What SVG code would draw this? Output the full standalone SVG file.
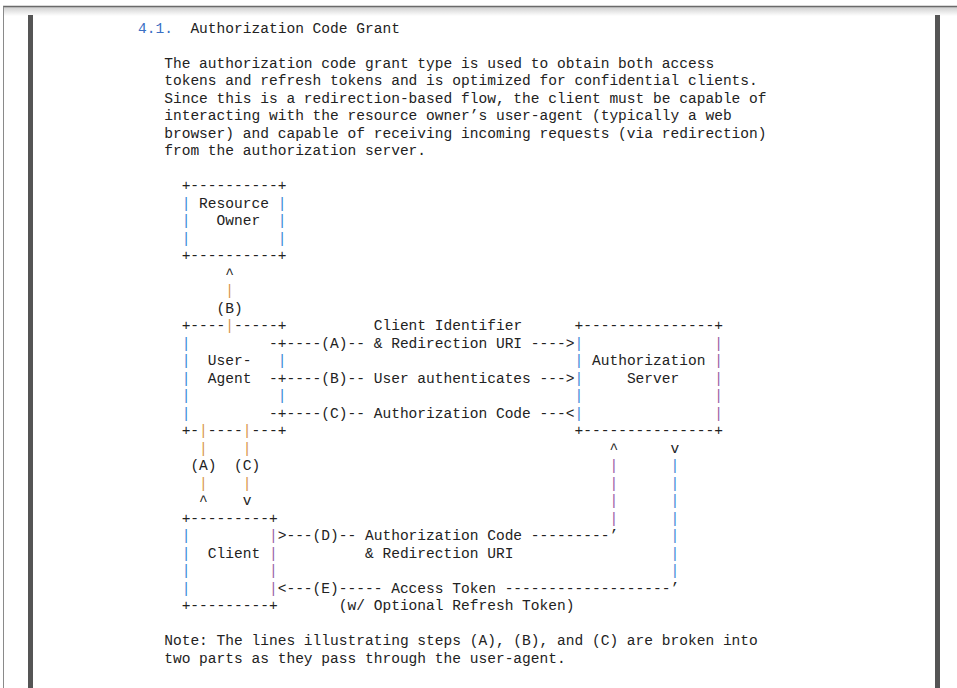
<svg xmlns="http://www.w3.org/2000/svg" width="957" height="688" viewBox="0 0 957 688">
<defs>
<linearGradient id="shade" x1="0" y1="0" x2="0" y2="1">
<stop offset="0" stop-color="#cfcfcf"/>
<stop offset="1" stop-color="#ffffff"/>
</linearGradient>
</defs>
<style>
.t{font-family:"Liberation Mono","Courier New",monospace;font-size:14.55px;fill:#222222;white-space:pre}
.h{fill:#3b6fc4}
.pb{fill:#3a8ad6}
.po{fill:#d8964a}
.pp{fill:#9a62a6}
</style>
<rect x="0" y="0" width="957" height="688" fill="#ffffff"/>
<rect x="4" y="7" width="953" height="9" fill="url(#shade)"/>
<line x1="3" y1="6.5" x2="957" y2="6.5" stroke="#6a6a6a" stroke-width="1.5"/>
<line x1="3.5" y1="6.5" x2="3.5" y2="688" stroke="#8a8a8a" stroke-width="1"/>
<rect x="28" y="15" width="5" height="673" fill="#555555"/>
<rect x="935" y="15" width="5" height="673" fill="#555555"/>

<g id="text-body" transform="translate(0,1)">
<text class="t" x="138" y="31.8"><tspan class="h">4.1.</tspan>  Authorization Code Grant</text>
<text class="t" x="164.19" y="66.8">The authorization code grant type is used to obtain both access</text>
<text class="t" x="164.19" y="84.3">tokens and refresh tokens and is optimized for confidential clients.</text>
<text class="t" x="164.19" y="101.8">Since this is a redirection-based flow, the client must be capable of</text>
<text class="t" x="164.19" y="119.3">interacting with the resource owner’s user-agent (typically a web</text>
<text class="t" x="164.19" y="136.8">browser) and capable of receiving incoming requests (via redirection)</text>
<text class="t" x="164.19" y="154.3">from the authorization server.</text>
<text class="t" x="164.19" y="644.3">Note: The lines illustrating steps (A), (B), and (C) are broken into</text>
<text class="t" x="164.19" y="661.8">two parts as they pass through the user-agent.</text>
</g>

<g id="resource-owner" transform="translate(0,1)">
<text class="t" x="181.65" y="189.3">+----------+</text>
<text class="t" x="181.65" y="206.8"><tspan class="pb">|</tspan> Resource <tspan class="pb">|</tspan></text>
<text class="t" x="181.65" y="224.3"><tspan class="pb">|</tspan>   Owner  <tspan class="pb">|</tspan></text>
<text class="t" x="181.65" y="241.8"><tspan class="pb">|</tspan>          <tspan class="pb">|</tspan></text>
<text class="t" x="181.65" y="259.3">+----------+</text>
</g>

<g id="user-agent" transform="translate(0,1)">
<text class="t" x="181.65" y="329.3">+----</text>
<text class="t" x="234.03" y="329.3">-----+</text>
<text class="t" x="181.65" y="346.8"><tspan class="pb">|</tspan></text>
<text class="t" x="277.68" y="346.8">+</text>
<text class="t" x="181.65" y="364.3"><tspan class="pb">|</tspan>  User-   <tspan class="pb">|</tspan></text>
<text class="t" x="181.65" y="381.8"><tspan class="pb">|</tspan>  Agent</text>
<text class="t" x="277.68" y="381.8">+</text>
<text class="t" x="181.65" y="399.3"><tspan class="pb">|</tspan>          <tspan class="pb">|</tspan></text>
<text class="t" x="181.65" y="416.8"><tspan class="pb">|</tspan></text>
<text class="t" x="277.68" y="416.8">+</text>
<text class="t" x="181.65" y="434.3">+-</text>
<text class="t" x="207.84" y="434.3">----</text>
<text class="t" x="251.49" y="434.3">---+</text>
</g>

<g id="authorization-server" transform="translate(0,1)">
<text class="t" x="574.5" y="329.3">+---------------+</text>
<text class="t" x="574.5" y="346.8"><tspan class="pb">|</tspan>               <tspan class="pp">|</tspan></text>
<text class="t" x="574.5" y="364.3"><tspan class="pb">|</tspan> Authorization <tspan class="pp">|</tspan></text>
<text class="t" x="574.5" y="381.8"><tspan class="pb">|</tspan>     Server    <tspan class="pp">|</tspan></text>
<text class="t" x="574.5" y="399.3"><tspan class="pb">|</tspan>               <tspan class="pp">|</tspan></text>
<text class="t" x="574.5" y="416.8"><tspan class="pb">|</tspan>               <tspan class="pp">|</tspan></text>
<text class="t" x="574.5" y="434.3">+---------------+</text>
</g>

<g id="client" transform="translate(0,1)">
<text class="t" x="181.65" y="521.8">+---------+</text>
<text class="t" x="181.65" y="539.3"><tspan class="pb">|</tspan>         <tspan class="pp">|</tspan></text>
<text class="t" x="181.65" y="556.8"><tspan class="pb">|</tspan>  Client <tspan class="pp">|</tspan></text>
<text class="t" x="181.65" y="574.3"><tspan class="pb">|</tspan>         <tspan class="pp">|</tspan></text>
<text class="t" x="181.65" y="591.8"><tspan class="pb">|</tspan>         <tspan class="pp">|</tspan></text>
<text class="t" x="181.65" y="609.3">+---------+</text>
</g>

<g id="connectors" transform="translate(0,1)">
<text class="t" x="225.3" y="276.8">^</text>
<text class="t" x="225.3" y="294.3"><tspan class="po">|</tspan></text>
<text class="t" x="216.57" y="311.8">(B)</text>
<text class="t" x="225.3" y="329.3"><tspan class="po">|</tspan></text>
<text class="t" x="373.71" y="329.3">Client Identifier</text>
<text class="t" x="268.95" y="346.8">-</text>
<text class="t" x="286.41" y="346.8">----(A)-- &amp; Redirection URI ----&gt;</text>
<text class="t" x="268.95" y="381.8">-</text>
<text class="t" x="286.41" y="381.8">----(B)-- User authenticates ---&gt;</text>
<text class="t" x="268.95" y="416.8">-</text>
<text class="t" x="286.41" y="416.8">----(C)-- Authorization Code ---&lt;</text>
<text class="t" x="199.11" y="434.3"><tspan class="po">|</tspan></text>
<text class="t" x="242.76" y="434.3"><tspan class="po">|</tspan></text>
<text class="t" x="199.11" y="451.8"><tspan class="po">|</tspan></text>
<text class="t" x="242.76" y="451.8"><tspan class="po">|</tspan></text>
<text class="t" x="190.38" y="469.3">(A)  (C)</text>
<text class="t" x="199.11" y="486.8"><tspan class="po">|</tspan></text>
<text class="t" x="242.76" y="486.8"><tspan class="po">|</tspan></text>
<text class="t" x="199.11" y="504.3">^</text>
<text class="t" x="242.76" y="504.3">v</text>
<text class="t" x="609.42" y="451.8">^</text>
<text class="t" x="609.42" y="469.3"><tspan class="pp">|</tspan></text>
<text class="t" x="609.42" y="486.8"><tspan class="pp">|</tspan></text>
<text class="t" x="609.42" y="504.3"><tspan class="pp">|</tspan></text>
<text class="t" x="609.42" y="521.8"><tspan class="pp">|</tspan></text>
<text class="t" x="277.68" y="539.3">&gt;---(D)-- Authorization Code ---------’</text>
<text class="t" x="364.98" y="556.8">&amp; Redirection URI</text>
<text class="t" x="670.53" y="451.8">v</text>
<text class="t" x="670.53" y="469.3"><tspan class="pb">|</tspan></text>
<text class="t" x="670.53" y="486.8"><tspan class="pb">|</tspan></text>
<text class="t" x="670.53" y="504.3"><tspan class="pb">|</tspan></text>
<text class="t" x="670.53" y="521.8"><tspan class="pb">|</tspan></text>
<text class="t" x="670.53" y="539.3"><tspan class="pb">|</tspan></text>
<text class="t" x="670.53" y="556.8"><tspan class="pb">|</tspan></text>
<text class="t" x="670.53" y="574.3"><tspan class="pb">|</tspan></text>
<text class="t" x="277.68" y="591.8">&lt;---(E)----- Access Token -------------------’</text>
<text class="t" x="338.79" y="609.3">(w/ Optional Refresh Token)</text>
</g>
</svg>
